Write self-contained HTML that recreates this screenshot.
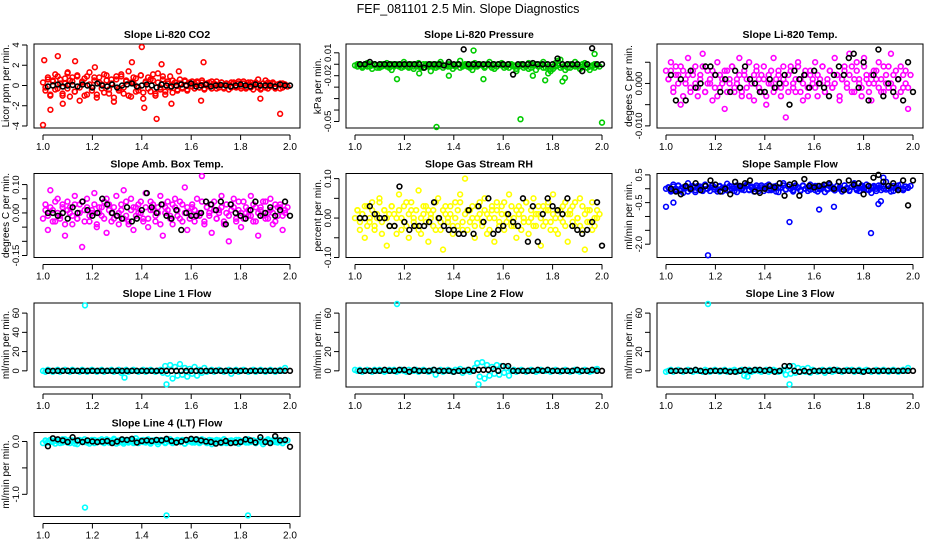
<!DOCTYPE html>
<html><head><meta charset="utf-8"><style>
body{margin:0;background:#fff;}
svg{display:block;font-family:"Liberation Sans",sans-serif;}
.t{font-size:10.5px;font-weight:bold;text-anchor:middle;}
.ax{font-size:10px;}
.yt{font-size:9.5px;}
</style></head><body>
<svg id="c" width="936" height="540" viewBox="0 0 936 540">
<text x="468" y="13" font-size="12.5" text-anchor="middle">FEF_081101  2.5 Min. Slope Diagnostics</text>
</svg>
<script>
// ---- data (x positions evenly spaced 1.0..2.0 by index) ----
const xTicks=[1.0,1.2,1.4,1.6,1.8,2.0];
const xTickLabels=["1.0","1.2","1.4","1.6","1.8","2.0"];
const co2Red=[0.3,-0.5,0.8,-1.0,0.5,1.1,-0.3,0.6,-0.8,0.2,1.2,-1.1,0.4,-0.6,0.9,-1.5,0.3,0.7,-0.9,1.3,-0.2,0.5,-1.2,0.8,0.1,-0.7,1.0,-0.4,0.6,-1.6,0.9,-0.3,1.1,-0.8,0.4,1.4,-1.1,0.2,0.7,-0.5,1.0,-1.3,0.3,0.8,-0.6,0.5,-1.0,1.2,-0.2,0.6,-0.9,0.4,0.9,-0.7,0.3,-0.4,0.6,-0.3,0.5,-0.5,0.2,0.4,-0.3,0.3,-0.2,0.5,-0.4,0.2,0.3,-0.3,0.1,0.4,-0.2,0.3,-0.3,0.2,0.1,-0.2,0.3,-0.1,0.2,-0.3,0.4,-0.2,0.1,0.3,-0.4,0.2,0.6,-0.3,0.2,-0.2,0.3,-0.1,0.2,-0.3,0.1,0.2,-0.2,0.1];
const co2Red2=[-0.2,0.6,-0.9,0.4,-0.4,0.9,0.2,-1.0,0.7,-0.3,0.5,0.8,-0.6,1.0,-0.2,0.4,-1.0,0.9,0.1,-0.5,0.8,-0.9,0.3,-0.3,1.1,0.5,-0.8,0.2,-1.2,0.6,-0.5,0.9,-0.2,0.5,-1.0,0.3,0.8,-0.6,-0.2,1.0,-0.7,0.4,-0.3,0.6,1.1,-0.8,0.3,-0.4,0.9,-0.6,0.2,-0.2,0.5,0.3,-0.5,0.2,-0.2,0.4,-0.4,0.3,-0.1,0.2,0.4,-0.2,0.3,-0.3,0.2,-0.1,0.4,0.2,-0.3,0.1,0.3,-0.2,0.2,-0.4,0.3,0.2,-0.2,0.4,-0.1,0.2,-0.3,0.3,-0.2,0.1,0.3,-0.2,-0.4,0.2,0.5,-0.3,0.2,0.3,-0.2,0.1,-0.3,0.2,0.1,-0.1];
const co2Black=[-0.1,0,0.1,-0.1,0,0.05,-0.1,0.1,0,-0.2,0.2,0,-0.1,0.1,-0.2,0,0.1,0.2,-0.1,0,0.1,0,-0.2,0.1,0,-0.1,0,0.1,0,0.2,-0.1,0,0.1,-0.1,0,0.05,0,-0.1,0,0.1,0,-0.1,0.1,0,0,0,-0.1,0.1,0,0];
const co2OutX=[1.0,1.005,1.06,1.03,1.13,1.4,1.36,1.48,1.46,1.55,1.65,1.64,1.88,1.96,1.41,1.21,1.08,1.52,1.1];
const co2OutY=[-3.9,2.5,2.9,-2.4,2.4,3.8,2.3,2.1,-3.3,1.4,2.3,-1.5,-1.3,-2.8,-2.2,1.8,-1.8,-1.8,1.3];
const presGreenMilli=[-1,-2,0,-3,-1,1,-2,-4,0,-1,-3,-2,0,1,-1,-5,-2,0,-1,-3,2,-1,-2,0,-4,-1,1,-2,-3,0,-1,-6,-2,0,-1,2,-3,-1,0,-2,-4,-1,0,3,-2,-1,0,-3,-5,1,-2,0,-1,-3,0,2,-1,-4,-2,0,1,-1,-2,-3,0,-2,-6,-1,0,-3,-2,1,0,-1,-5,-2,0,2,-3,-8,-6,-4,-2,3,4,-2,-5,-3,0,-1,2,-2,-4,0,1,-3,-5,-2,0,-1];
const presGreen2Milli=[0,-1,-2,0,-2,0,-1,0,-3,-2,0,-1,-2,-3,0,-1,-1,-2,0,-2,0,-3,-1,-2,0,-2,-3,0,-1,-2,0,-1,-3,-2,0,-1,-1,-2,0,-1,-2,0,-3,-1,0,-2,-1,0,-2,-1,0,-1,-2,0,-1,-3,0,-2,0,-1,-3,-2,0,-1,-1,-4,-2,0,-1,-2,-4,-3,-1,0,-2,-1,-3,0,-2,-4,-2,1,-1,-3,-2,-1,0,-3,-1,-2,0,-4,-2,-1,0,-2,-1,-3,-1,-2];
const presOutX=[1.33,1.67,2.0,1.17,1.48,1.77,1.84,1.97,1.85,1.52,1.38,1.26,1.72];
const presOutMilli=[-55,-48,-51,-13,12,-14,-15,9,-12,-13,-10,-8,-10];
const presBlackMilli=[0,0,2,0,0,0,0,0,0,0,0,0,0,-3,0,0,0,-1,2,0,0,13,0,0,0,0,0,0,0,0,0,-9,0,0,0,1,0,0,0,0,5,0,0,0,0,-6,0,14,0,0];
const tempMagMilli=[3,1,5,-2,4,2,-5,3,0,6,-1,2,4,-3,1,7,-2,3,0,-4,2,5,-1,1,-6,3,0,4,-2,1,6,-3,2,-1,5,0,-4,3,1,-2,4,-5,2,0,6,-1,3,-3,1,-8,2,4,0,-2,5,1,-4,3,-1,2,0,5,-3,1,4,-2,0,3,-1,6,2,-4,1,3,-1,7,4,-2,5,1,-3,6,2,0,-4,3,1,5,-2,4,0,-1,7,2,-3,1,4,-1,3,-6];
const tempMag2Milli=[1,3,-1,2,0,4,-3,1,2,-2,3,0,-1,2,4,-2,0,1,3,-1,-3,2,0,3,-2,1,4,-1,0,2,-2,3,1,-3,0,2,4,-1,2,1,-3,0,3,-2,1,2,-1,4,0,-2,3,-1,1,4,-2,0,2,-3,3,1,-1,2,0,4,-2,1,3,-1,0,2,-3,1,4,0,2,-2,1,3,0,-1,4,1,-2,2,0,3,-1,1,-2,2,4,0,-1,3,1,-2,2,0,-1,2];
const tempBlackMilli=[2,-4,1,-4,3,-1,0,4,4,2,-2,1,-2,3,-1,4,1,0,-2,-2,1,-1,0,2,-5,3,1,2,-1,3,0,-1,-3,2,4,2,6,7,-1,5,-4,2,8,-3,0,-2,1,-4,5,-2];
const ambMagCenti=[-2,3,-6,8,1,-3,5,-1,2,-8,4,0,-4,6,-2,3,-12,1,5,-3,0,7,-5,2,-1,4,-7,3,0,-2,6,-4,1,8,-1,-3,5,-6,2,0,4,-2,7,-5,1,3,-3,0,6,-8,2,4,-1,-4,5,1,-2,3,9,-6,0,2,-3,5,-1,13,-4,2,0,-7,4,-2,1,6,-3,0,-10,3,5,-2,1,-5,4,0,-1,6,-3,2,-8,1,4,-2,0,5,-4,3,-1,2,-6,1];
const ambMag2Centi=[1,-1,2,-3,4,0,-2,3,-4,1,2,-1,3,-2,0,4,-3,2,-1,1,3,-4,0,2,-2,5,1,-3,2,-1,0,3,-2,4,-4,1,2,-1,3,0,-3,2,-2,4,1,-1,2,-4,3,0,1,-2,3,2,-1,4,-3,0,2,-2,3,1,-1,0,4,-3,2,-1,3,1,-2,0,2,-4,3,-1,1,2,-3,4,0,-2,2,1,-1,3,-3,0,2,-1,4,-2,1,0,-3,2,3,-1,0,2];
const ambBlackCenti=[0,0,-1,0,-2,2,0,4,1,-1,0,5,3,0,-1,-2,2,-3,-2,1,7,2,0,3,-1,-2,1,-6,0,-1,-1,0,4,3,1,4,-4,3,0,-1,-2,1,4,-1,0,2,-1,1,4,-1];
const rhYellowCenti=[0,2,-3,1,-5,3,-1,4,-2,0,5,-4,2,-7,1,3,-2,0,6,-3,-1,4,-5,2,0,-2,7,-4,1,3,-6,0,2,-3,5,-1,-8,3,0,1,-4,4,-2,6,-1,10,-3,2,0,-5,3,1,-2,5,-4,0,2,-6,4,-1,3,-3,1,6,-2,0,-5,3,2,-1,4,-4,0,5,-2,1,-7,3,-1,2,-3,6,0,-4,2,-1,4,-6,1,3,-2,0,5,-3,-8,2,-1,4,-2,0];
const rhYellow2Centi=[2,-1,1,3,-2,0,2,-3,1,4,-1,2,0,-2,3,1,-4,2,0,3,-2,1,4,-1,2,-3,0,3,-1,2,1,-2,4,0,-3,2,1,-1,3,-2,0,2,4,-3,1,2,-1,3,-2,0,4,-1,2,1,-3,3,0,2,-2,1,4,-1,0,3,-2,2,1,-3,0,4,-1,2,-2,1,3,0,-2,2,4,-1,1,-3,2,0,3,-2,1,2,-1,4,0,-2,3,1,-1,2,-3,0,2,1];
const rhBlackCenti=[0,0,3,1,0,0,-2,-2,8,-1,-3,-2,-2,-2,-1,4,0,-2,-3,-3,-4,-4,2,-4,3,-1,5,-4,-3,-2,1,-1,-2,5,-6,3,-6,1,5,3,2,1,5,-2,-3,-4,-3,-1,4,-7];
const flowBlueCenti=[0,5,-10,15,-5,10,0,-15,8,20,-3,5,-12,10,2,-5,15,0,-8,12,5,-2,10,-10,0,18,-5,8,2,-12,10,0,-5,15,-3,8,-10,5,0,12,-8,3,15,-5,0,10,-12,5,20,-3,8,0,-10,12,5,-5,10,0,-8,15,3,-5,10,-2,8,-12,0,15,5,-5,10,0,-10,12,3,-5,8,20,0,-8,12,5,-3,10,-15,5,0,12,-5,8,25,0,-10,10,5,-3,15,0,8,5];
const flowBlue2Centi=[5,-5,8,0,12,-8,5,3,-10,6,10,-5,2,8,-8,10,0,5,12,-3,-10,8,3,5,-6,10,0,-8,12,5,-3,8,10,-5,3,0,12,-8,5,2,10,-5,0,8,-10,5,3,12,-2,8,0,-5,10,3,-8,12,0,5,-3,8,10,-10,2,5,12,-3,8,0,-6,10,5,-2,12,0,-8,6,10,-5,3,8,0,15,-5,5,10,-8,3,12,0,-3,10,5,-8,2,12,0,-5,8,3,10];
const flowOutX=[1.0,1.17,1.5,1.83,1.62,1.68,1.03,1.86,1.87,1.88];
const flowOutY=[-0.65,-2.4,-1.2,-1.6,-0.75,-0.65,-0.5,-0.55,-0.45,0.4];
const flowBlackCenti=[0,-10,-20,10,0,20,-5,10,30,15,-10,0,-20,25,10,20,30,-10,-15,0,10,5,20,-25,15,20,-25,35,10,5,10,15,20,0,25,-5,30,15,20,-20,10,40,50,25,10,20,-5,30,-60,30];
const line1Cyan=[0,-1,1,0,-1,0,1,-1,0,1,0,-1,1,0,0,-1,1,0,-1,0,1,0,-1,0,1,-1,0,0,1,-1,0,1,-2,0,1,-1,0,1,0,-1,0,1,-1,0,1,0,-1,0,1,-2,5,-3,6,-8,4,-5,7,-4,3,-6,2,-3,4,-5,1,-2,3,-1,0,1,-1,0,1,0,-1,0,1,-3,0,1,-1,0,1,0,-1,0,1,-1,0,1,0,-1,0,1,0,-1,0,1,0,3];
const line2Cyan=[1,0,1,-1,0,1,0,-1,1,0,1,0,-1,0,1,0,1,-1,0,1,0,-1,1,0,0,1,-1,0,1,0,-1,0,1,-4,0,1,-1,0,1,0,-1,1,0,2,-2,0,1,-1,0,3,8,-6,9,-8,6,-5,4,-3,6,-4,5,-2,3,-5,0,1,-1,0,1,0,-1,0,1,0,-1,0,1,0,0,1,-1,0,1,0,-1,0,1,0,-1,0,1,0,-1,0,1,0,-1,0,1,2];
const line3Cyan=[-1,0,1,-1,0,1,0,-1,0,1,0,-1,1,0,0,-1,1,0,-1,0,1,0,-1,0,1,-1,0,0,1,-1,0,1,-5,0,1,-1,0,1,0,-1,0,1,-1,0,1,0,-1,0,1,-4,4,-3,5,-2,3,-1,2,-1,3,-2,1,0,-1,0,1,-2,0,1,-1,0,1,0,-1,0,1,0,1,-1,0,1,-1,0,1,0,-1,0,1,-1,0,1,0,-1,0,1,0,-1,0,1,0,3];
const line1OutX=[1.17,1.5,1.33];const line1OutY=[68,-14,-7];
const line2OutX=[1.17,1.5];const line2OutY=[70,-14];
const line3OutX=[1.17,1.5,1.33];const line3OutY=[71,-14,-6];
const lineBlack1=[0,0,0,0,0,0,0,0,0,0,0,0,0,0,0,0,0,0,0,0,0,0,0,0,0,0,0,0,0,0,0,0,0,0,0,0,0,0,0,0,0,0,0,0,0,0,0,0,0,0];
const lineBlack2=[0,0,0,0,0,1,0,0,1,1,-1,1,0,0,0,1,0,0,0,-1,0,0,1,0,1,1,1,2,0,5,5,0,0,0,0,0,1,0,1,0,0,0,0,0,1,0,0,1,0,0];
const lineBlack3=[0,0,0,0,0,1,0,-1,0,0,0,0,-1,-1,0,1,0,1,1,0,1,-1,0,5,5,0,-1,0,-1,0,0,0,0,1,0,0,0,0,0,-1,0,0,0,0,0,0,0,0,0,0];
const lt4CyanCenti=[-3,2,-1,3,0,-4,1,2,-2,4,0,-3,2,1,-5,3,0,-1,2,-4,1,3,-2,0,4,-3,1,2,-1,5,0,-2,3,-4,1,0,2,-3,6,-1,0,3,-2,1,-4,2,0,-5,3,1,-2,4,0,-3,1,2,-1,3,-4,0,2,-2,1,4,-3,0,2,-1,3,-5,1,0,2,-3,4,-1,0,2,-2,3,-4,1,0,-2,4,-1,2,-3,0,3,-5,1,2,-1,0,3,-2,1,-3,2];
const lt4Cyan2Centi=[1,-2,3,-1,2,0,-3,4,1,-2,3,0,-4,2,1,-1,4,-2,0,3,-3,1,2,-1,0,4,-2,1,3,-4,2,0,-1,3,-2,4,0,1,-3,2,-1,0,4,-2,1,3,-1,0,2,-3,1,4,-2,0,3,-1,2,-4,1,0,3,-2,2,-1,4,0,-3,1,2,-2,3,0,-1,4,-3,1,2,0,-2,3,-1,1,4,-2,0,2,-3,1,3,-1,0,4,-2,2,-1,3,0,-3,1,2];
const lt4OutX=[1.17,1.5,1.83];const lt4OutY=[-1.25,-1.4,-1.4];
const lt4BlackCenti=[-9,6,4,2,-1,8,2,-1,2,0,-1,0,1,-3,0,4,3,5,-2,1,2,1,3,2,5,1,-2,0,3,5,4,2,0,-1,-4,-2,1,-3,-2,-1,4,2,-2,8,-1,-3,10,2,3,-10];

// ---- layout ----
const svg=document.getElementById('c');
const NS='http://www.w3.org/2000/svg';
const colLeft=[34,346,657], boxW=266, boxH=84;
function rowTop(r){return 44+r*129.5;}
function mk(tag,attrs,parent){const e=document.createElementNS(NS,tag);for(const k in attrs)e.setAttribute(k,attrs[k]);(parent||svg).appendChild(e);return e;}
function idxX(i,n,off){return 1.0+off+(0.98*i)/(n-1);}

function panel(p){
  const L=colLeft[p.col], T=rowTop(p.row);
  const g=mk('g',{});
  
  
  const sx=v=>L+9+(v-1)*247;
  const sy=v=>T+(p.top-v)/(p.top-p.bot)*boxH;
  const title=mk('text',{x:L+boxW/2,y:T-6,'class':'t'},g);title.textContent=p.title;
  
  
  const box=mk('rect',{x:L,y:T,width:boxW,height:boxH,fill:'none',stroke:'#000','stroke-width':1},g);
  
  
  const xa=mk('g',{},g);
  
  
  mk('line',{x1:sx(1),x2:sx(2),y1:T+boxH+7,y2:T+boxH+7,stroke:'#000'},xa);
  xTicks.forEach((v,i)=>{mk('line',{x1:sx(v),x2:sx(v),y1:T+boxH+7,y2:T+boxH+12,stroke:'#000'},xa);
    const t=mk('text',{x:sx(v),y:T+boxH+22,'class':'ax','text-anchor':'middle'},xa);t.textContent=xTickLabels[i];});
  const ya=mk('g',{},g);
  
  
  const ax=L-7;
  mk('line',{x1:ax,x2:ax,y1:sy(p.ticks[0]),y2:sy(p.ticks[p.ticks.length-1]),stroke:'#000'},ya);
  p.ticks.forEach((v,i)=>{mk('line',{x1:ax-5,x2:ax,y1:sy(v),y2:sy(v),stroke:'#000'},ya);
    if(p.labels[i]){const t=mk('text',{x:0,y:0,'class':'yt','text-anchor':'middle',transform:`translate(${ax-8},${sy(v)}) rotate(-90)`},ya);t.textContent=p.labels[i];}});
  const yt=mk('text',{x:0,y:0,'class':'ax','text-anchor':'middle',transform:`translate(${L-25},${T+boxH/2}) rotate(-90)`},g);
  yt.textContent=p.ylab;
  
  
  const clip=(v)=>Math.max(T+1,Math.min(T+boxH-1,v));
  function pts(arrY,arrX,color,label,scale,off){
    const s=mk('g',{fill:'none',stroke:color,'stroke-width':1.6},g);
    
    
    arrY.forEach((v,i)=>{const x=arrX?arrX[i]:idxX(i,arrY.length,off);
      const c=mk('circle',{cx:sx(x),cy:clip(sy(v*scale)),r:2.4},s);
      
      });
  }
  pts(p.main,null,p.color,'points',p.scale,0);
  if(p.main2)pts(p.main2,null,p.color,'points-b',p.scale,0.01);
  if(p.outY)pts(p.outY,p.outX,p.color,'outliers',p.outScale||p.scale,0);
  pts(p.black,null,'#000','black-points',p.scale,0.02);
}

panel({name:'co2',col:0,row:0,title:'Slope Li-820 CO2',ylab:'Licor ppm per min.',top:4.1,bot:-4.2,ticks:[4,2,0,-2,-4],labels:['4','2','0','-2','-4'],color:'#ff0000',scale:1,main:co2Red,main2:co2Red2,black:co2Black,outX:co2OutX,outY:co2OutY});
panel({name:'pressure',col:1,row:0,title:'Slope Li-820 Pressure',ylab:'kPa per min.',top:0.0177,bot:-0.0557,ticks:[0.01,0,-0.01,-0.02,-0.03,-0.04,-0.05],labels:['0.01','','-0.02','','','','-0.05'],color:'#00cc00',scale:0.001,main:presGreenMilli,main2:presGreen2Milli,black:presBlackMilli,outX:presOutX,outY:presOutMilli});
panel({name:'temp',col:2,row:0,title:'Slope Li-820 Temp.',ylab:'degees C per min.',top:0.0093,bot:-0.0105,ticks:[0.005,0,-0.005,-0.01],labels:['','0.000','','-0.010'],color:'#ff00ff',scale:0.001,main:tempMagMilli,main2:tempMag2Milli,black:tempBlackMilli});
panel({name:'amb-box',col:0,row:1,title:'Slope Amb. Box Temp.',ylab:'degrees C per min.',top:0.139,bot:-0.157,ticks:[0.1,0.05,0,-0.05,-0.1,-0.15],labels:['0.10','','0.00','','','-0.15'],color:'#ff00ff',scale:0.01,main:ambMagCenti,main2:ambMag2Centi,black:ambBlackCenti});
panel({name:'rh',col:1,row:1,title:'Slope Gas Stream RH',ylab:'percent per min.',top:0.113,bot:-0.1,ticks:[0.1,0.05,0,-0.05,-0.1],labels:['0.10','','0.00','','-0.10'],color:'#ffff00',scale:0.01,main:rhYellowCenti,main2:rhYellow2Centi,black:rhBlackCenti});
panel({name:'sample-flow',col:2,row:1,title:'Slope Sample Flow',ylab:'ml/min per min.',top:0.55,bot:-2.48,ticks:[0.5,0,-0.5,-1,-1.5,-2],labels:['0.5','','-0.5','','','-2.0'],color:'#0000ff',scale:0.01,main:flowBlueCenti,main2:flowBlue2Centi,black:flowBlackCenti,outX:flowOutX,outY:flowOutY,outScale:1});
panel({name:'line1',col:0,row:2,title:'Slope Line 1 Flow',ylab:'ml/min per min.',top:70.5,bot:-16.8,ticks:[0,20,40,60],labels:['0','20','40','60'],color:'#00ffff',scale:1,main:line1Cyan,black:lineBlack1,outX:line1OutX,outY:line1OutY});
panel({name:'line2',col:1,row:2,title:'Slope Line 2 Flow',ylab:'ml/min per min.',top:70.5,bot:-16.8,ticks:[0,20,40,60],labels:['0','20','','60'],color:'#00ffff',scale:1,main:line2Cyan,black:lineBlack2,outX:line2OutX,outY:line2OutY});
panel({name:'line3',col:2,row:2,title:'Slope Line 3 Flow',ylab:'ml/min per min.',top:70.5,bot:-16.8,ticks:[0,20,40,60],labels:['0','20','','60'],color:'#00ffff',scale:1,main:line3Cyan,black:lineBlack3,outX:line3OutX,outY:line3OutY});
panel({name:'line4',col:0,row:3,title:'Slope Line 4 (LT) Flow',ylab:'ml/min per min.',top:0.17,bot:-1.42,ticks:[0,-0.5,-1],labels:['0.0','','-1.0'],color:'#00ffff',scale:0.01,main:lt4CyanCenti,main2:lt4Cyan2Centi,black:lt4BlackCenti,outX:lt4OutX,outY:lt4OutY,outScale:1});
</script>
</body></html>
